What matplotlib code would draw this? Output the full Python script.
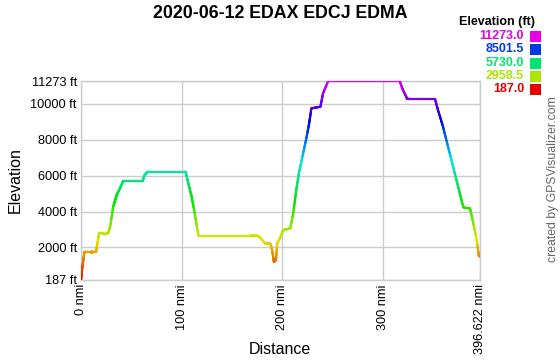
import matplotlib
matplotlib.use("Agg")
import matplotlib.pyplot as plt
import numpy as np
from matplotlib.collections import LineCollection
from matplotlib.colors import hsv_to_rgb
from matplotlib.patches import Rectangle

plt.rcParams['font.family'] = ['Liberation Sans', 'DejaVu Sans']

title = "2020-06-12 EDAX EDCJ EDMA"

dist_nmi = [0, 1, 2.3, 3.3, 4.5, 10, 10.6, 11.5, 15, 16.5, 18, 22, 23, 27, 29, 32, 34, 35.5,
            38.8, 42, 61.3, 63, 66, 104, 106.7, 110, 113, 116.6, 117.5, 168, 172, 176, 178,
            183, 188.4, 190, 191.7, 193.8, 195, 197.8, 201, 208, 211, 214, 216.6, 220.8, 224,
            226.8, 229, 238, 240.6, 245.7, 316.8, 320, 324, 325, 351.9, 354.9, 359.9, 364.9,
            369.9, 374.9, 379.9, 381, 386.7, 390, 393.3, 395.5, 396.622]
elev_ft = [187, 744, 1301, 1720, 1764, 1764, 1700, 1764, 1764, 2300, 2780, 2780, 2740, 2800,
           3156, 4270, 4644, 4922, 5295, 5718, 5718, 6000, 6220, 6220, 5570, 4827, 3902, 2694,
           2655, 2655, 2680, 2640, 2550, 2230, 2200, 1850, 1207, 1300, 2230, 2508, 2972, 3065,
           3900, 5200, 6130, 7245, 8080, 8915, 9750, 9840, 10586, 11273, 11273, 10771, 10308,
           10270, 10270, 9652, 8719, 7605, 6491, 5384, 4270, 4214, 4178, 3345, 2415, 1524, 1520]

ymin, ymax = 187, 11273
xmax = 396.622
y_ticks = [187, 2000, 4000, 6000, 8000, 10000, 11273]
x_ticks = [0, 100, 200, 300, 396.622]
x_labels = ["0 nmi", "100 nmi", "200 nmi", "300 nmi", "396.622 nmi"]
legend_vals = [11273.0, 8501.5, 5730.0, 2958.5, 187.0]


def elev_color(e):
    h = (e - ymin) / (ymax - ymin) * 300.0 / 360.0
    return hsv_to_rgb([h, 1.0, 0.9])


fig = plt.figure(figsize=(5.6, 3.6), dpi=100)
ax = fig.add_axes([81 / 560, 80 / 360, 399 / 560, 199 / 360])

# densify so the gradient follows the elevation
xs, ys = [], []
for i in range(len(dist_nmi) - 1):
    t = np.linspace(0, 1, 20, endpoint=False)
    xs.extend(dist_nmi[i] + t * (dist_nmi[i + 1] - dist_nmi[i]))
    ys.extend(elev_ft[i] + t * (elev_ft[i + 1] - elev_ft[i]))
xs.append(dist_nmi[-1])
ys.append(elev_ft[-1])
pts = np.column_stack([xs, ys]).reshape(-1, 1, 2)
segs = np.concatenate([pts[:-1], pts[1:]], axis=1)
mid = (np.array(ys[:-1]) + np.array(ys[1:])) / 2
lc = LineCollection(segs, colors=[elev_color(m) for m in mid], linewidths=1.6,
                    capstyle='round', zorder=3)
ax.add_collection(lc)

ax.set_xlim(0, xmax)
ax.set_ylim(ymin, ymax)
ax.set_yticks(y_ticks)
ax.set_yticklabels([f"{v} ft" for v in y_ticks], fontsize=9.2)
ax.set_xticks(x_ticks)
ax.set_xticklabels(x_labels, rotation=90, fontsize=9.2)
ax.tick_params(length=0, pad=3)
ax.grid(color='#cccccc', linewidth=1.0)
for s in ax.spines.values():
    s.set_color('#cccccc')
    s.set_linewidth(1.0)

fig.text(280 / 560, 1 - 14 / 360, title, ha='center', va='center', fontsize=12.8, fontweight='bold')
fig.text(15 / 560, 1 - 180 / 360, "Elevation", rotation=90, ha='center', va='center', fontsize=11.5)
fig.text(280 / 560, 1 - 350 / 360, "Distance", ha='center', va='center', fontsize=11.5)
fig.text(553 / 560, 1 - 179 / 360, "created by GPSVisualizer.com", rotation=90,
         ha='center', va='center', fontsize=8.8, color='#666666')

fig.text(497 / 560, 1 - 22 / 360, "Elevation (ft)", ha='center', va='center',
         fontsize=9.0, fontweight='bold')
row_y = [36, 49.5, 63, 76, 89]
for v, ry in zip(legend_vals, row_y):
    c = elev_color(v)
    fig.text(524 / 560, 1 - ry / 360, f"{v:.1f}", ha='right', va='center',
             fontsize=9.0, fontweight='bold', color=c)
    fig.patches.append(Rectangle((530 / 560, 1 - (ry + 5.5) / 360), 11 / 560, 11 / 360,
                                 transform=fig.transFigure, facecolor=c, edgecolor='none'))

fig.savefig("out.png", dpi=100)
